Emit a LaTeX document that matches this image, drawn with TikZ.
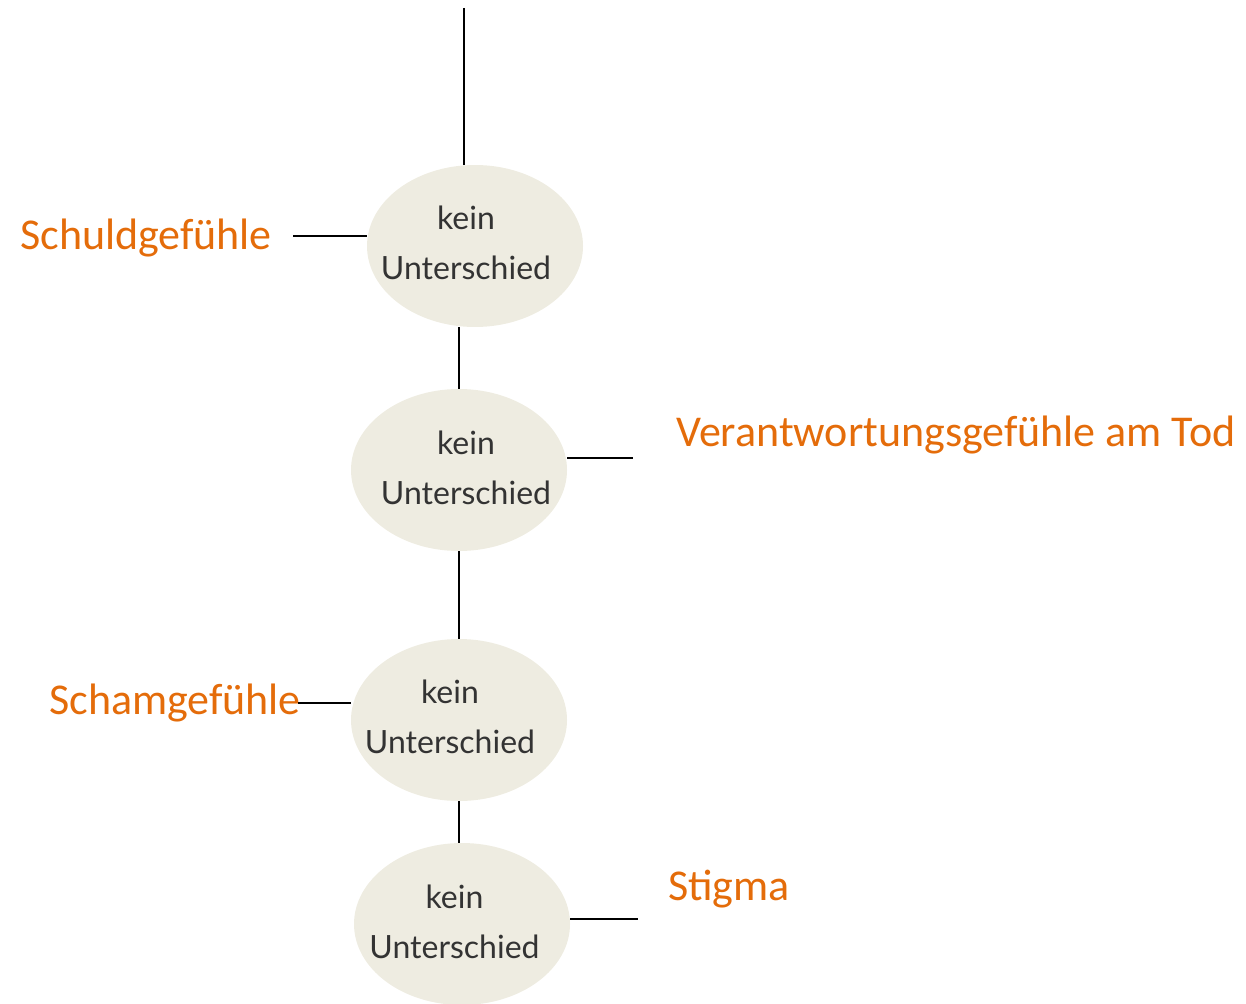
\documentclass[tikz,border=0pt]{standalone}
\usepackage{fontspec}
\newfontfamily\labelfont{Carlito}
\newfontfamily\bubblefont{Lato}
\usetikzlibrary{shapes.geometric}

\definecolor{labelorange}{HTML}{E46C0A}
\definecolor{bubblefill}{HTML}{EEECE1}

\begin{document}
\begin{tikzpicture}[x=1pt, y=1pt,
	bubble/.style={ellipse, fill=bubblefill, minimum width=216pt, minimum height=162pt, inner sep=0pt},
	bubtext/.style={font=\bubblefont\fontsize{32}{50}\selectfont, text=black!80, align=center, inner sep=0pt},
	factor/.style={font=\labelfont\fontsize{44}{50}\selectfont, text=labelorange, inner sep=0pt, anchor=base west},
	link/.style={line width=1.5pt}]
	\useasboundingbox (0, 0) rectangle (1246, -1003);
	% the four bubbles
	\node[bubble](E1) at (475, -246){};
	\node[bubble](E2) at (459, -470){};
	\node[bubble](E3) at (459, -720){};
	\node[bubble](E4) at (462, -924){};
	\node[bubtext](T1) at (466, -243){kein\\Unterschied};
	\node[bubtext](T2) at (466, -468){kein\\Unterschied};
	\node[bubtext](T3) at (450, -717){kein\\Unterschied};
	\node[bubtext](T4) at (454.5, -922){kein\\Unterschied};
	% orange labels
	\node[factor](L1) at (20, -249){Schuldgefühle};
	\node[factor](L2) at (676, -446){Verantwortungsgefühle am Tod};
	\node[factor](L3) at (49, -714){Schamgefühle};
	\node[factor](L4) at (668, -900){Stigma};
	% vertical chain
	\coordinate (top) at (464, -8);
	\draw[link] (top) -- (top |- E1.north);
	\draw[link] (E2.north |- E1.south) -- (E2.north);
	\draw[link] (E2.south) -- (E3.north);
	\draw[link] (E3.south) -- (E3.south |- E4.north);
	% side ticks
	\coordinate (C1) at (293, -236);
	\coordinate (C2) at (633, -458);
	\coordinate (C3) at (298, -703);
	\coordinate (C4) at (638, -919);
	\draw[link] (C1) -- (C1 -| E1.west);
	\draw[link] (C2 -| E2.east) -- (C2);
	\draw[link] (C3) -- (C3 -| E3.west);
	\draw[link] (C4 -| E4.east) -- (C4);
\end{tikzpicture}
\end{document}
